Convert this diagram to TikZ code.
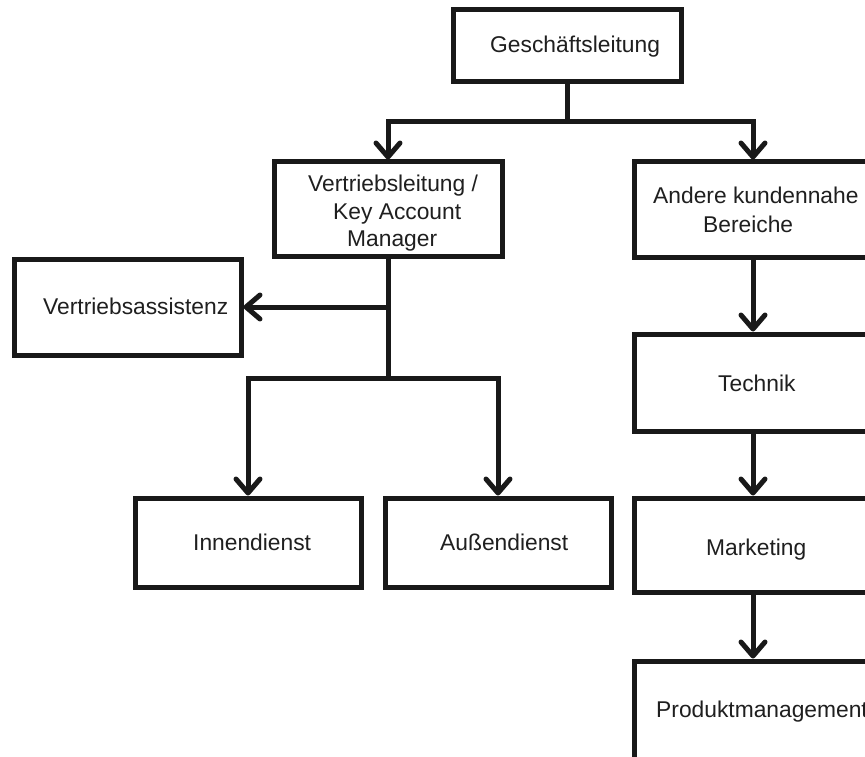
\documentclass[tikz,border=0pt]{standalone}
\usepackage{fontspec}
\setmainfont{Liberation Sans}
\usetikzlibrary{arrows.meta}
\begin{document}
\begin{tikzpicture}[x=1pt,y=-1pt,
  box/.style={draw=black!90, line width=5pt, inner sep=0pt, fill=white},
  lbl/.style={inner sep=0pt, anchor=base west, font=\fontsize{22.8}{27}\selectfont, text=black!88},
  link/.style={draw=black!90, line width=5pt},
  arr/.style={draw=black!90, line width=5pt, -{Straight Barb[length=14pt, width=24pt, line cap=round, line join=round]}}]
\clip (0,0) rectangle (865,757);
\fill[white] (0,0) rectangle (865,757);

% boxes
\node[box, minimum width=228pt, minimum height=72pt] (gl) at (567,46) {};
\node[box, minimum width=228pt, minimum height=94pt] (vl) at (388,209) {};
\node[box, minimum width=227pt, minimum height=96pt] (va) at (127.5,307) {};
\node[box, minimum width=226pt, minimum height=89pt] (id) at (248,542.5) {};
\node[box, minimum width=226pt, minimum height=89pt] (ad) at (498,542.5) {};
\node[box, minimum width=238pt, minimum height=95pt] (an) at (753,209.5) {};
\node[box, minimum width=238pt, minimum height=97pt] (te) at (753,382.5) {};
\node[box, minimum width=238pt, minimum height=94pt] (ma) at (753,545) {};
\node[box, minimum width=238pt, minimum height=100pt] (pm) at (753,711) {};

% labels
\node[lbl] (tgl) at (490,53) {Geschäftsleitung};
\node[lbl] (tvl1) at (308,191) {Vertriebsleitung /};
\node[lbl] (tvl2) at (333,219) {Key Account};
\node[lbl] (tvl3) at (347,246) {Manager};
\node[lbl] (tva) at (43,314) {Vertriebsassistenz};
\node[lbl] (tid) at (193,550) {Innendienst};
\node[lbl] (tad) at (440,550) {Außendienst};
\node[lbl] (tan1) at (653,204) {Andere kundennahe};
\node[lbl] (tan2) at (703,232) {Bereiche};
\node[lbl] (tte) at (718,391) {Technik};
\node[lbl] (tma) at (706,555) {Marketing};
\node[lbl] (tpm) at (656,717) {Produktmanagement};

% junction points
\coordinate (j1) at (567,122);
\coordinate (j2) at (388,307);
\coordinate (j3) at (388,378);

% connectors
\draw[link] (gl.south) -- (j1);
\draw[arr] (j1) -| (vl.north);
\draw[arr] (j1) -| (an.north);
\draw[link] (vl.south) -- (j3);
\draw[arr] (j2) -- (va.east);
\draw[arr] (j3) -| (id.north);
\draw[arr] (j3) -| (ad.north);
\draw[arr] (an.south) -- (te.north);
\draw[arr] (te.south) -- (ma.north);
\draw[arr] (ma.south) -- (pm.north);
\end{tikzpicture}
\end{document}
